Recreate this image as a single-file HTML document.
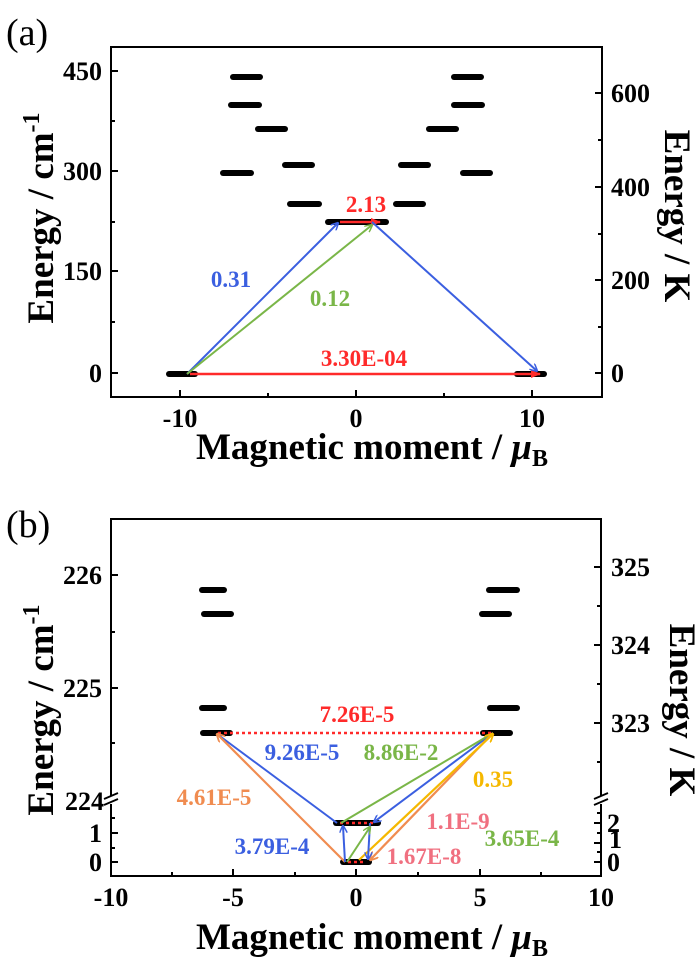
<!DOCTYPE html>
<html><head><meta charset="utf-8"><style>
html,body{margin:0;padding:0;background:#fff}
svg{display:block;font-family:"Liberation Serif",serif;font-weight:bold}
</style></head><body>
<svg width="700" height="980" viewBox="0 0 700 980" xmlns="http://www.w3.org/2000/svg">
<defs>
<marker id="ab" markerWidth="8" markerHeight="8" refX="7" refY="4" orient="auto" markerUnits="userSpaceOnUse"><path d="M0,0 L8,4 L0,8" fill="none" stroke="#3b5fe0" stroke-width="1.5"/></marker>
<marker id="ag" markerWidth="8" markerHeight="8" refX="7" refY="4" orient="auto" markerUnits="userSpaceOnUse"><path d="M0,0 L8,4 L0,8" fill="none" stroke="#7ab648" stroke-width="1.5"/></marker>
<marker id="ar" markerWidth="10" markerHeight="10" refX="9" refY="5" orient="auto" markerUnits="userSpaceOnUse"><path d="M0,1 L10,5 L0,9 z" fill="#ff2a2a"/></marker>
<marker id="ao" markerWidth="9" markerHeight="9" refX="8" refY="4.5" orient="auto" markerUnits="userSpaceOnUse"><path d="M0,0 L9,4.5 L0,9" fill="none" stroke="#f08c50" stroke-width="1.8"/></marker>
<marker id="ay" markerWidth="9" markerHeight="9" refX="8" refY="4.5" orient="auto" markerUnits="userSpaceOnUse"><path d="M0,0 L9,4.5 L0,9" fill="none" stroke="#f5b800" stroke-width="1.8"/></marker>
</defs>

<!-- ===== Panel (a) ===== -->
<text x="6" y="45" font-size="38" font-weight="normal">(a)</text>
<rect x="111" y="47" width="491" height="350" fill="none" stroke="#000" stroke-width="2"/>
<g stroke="#000" stroke-width="2">
<line x1="111" y1="373" x2="118" y2="373"/><line x1="111" y1="271" x2="118" y2="271"/>
<line x1="111" y1="171" x2="118" y2="171"/><line x1="111" y1="71" x2="118" y2="71"/>
<line x1="111" y1="322" x2="115" y2="322"/><line x1="111" y1="222" x2="115" y2="222"/><line x1="111" y1="121" x2="115" y2="121"/>
<line x1="602" y1="373" x2="595" y2="373"/><line x1="602" y1="280" x2="595" y2="280"/>
<line x1="602" y1="187" x2="595" y2="187"/><line x1="602" y1="93" x2="595" y2="93"/>
<line x1="602" y1="327" x2="598" y2="327"/><line x1="602" y1="234" x2="598" y2="234"/><line x1="602" y1="140" x2="598" y2="140"/>
<line x1="180" y1="397" x2="180" y2="390"/><line x1="356" y1="397" x2="356" y2="390"/><line x1="532" y1="397" x2="532" y2="390"/>
<line x1="268" y1="397" x2="268" y2="393"/><line x1="444" y1="397" x2="444" y2="393"/>
</g>
<g font-size="26" text-anchor="end">
<text x="102" y="382">0</text><text x="102" y="280">150</text><text x="102" y="180">300</text><text x="102" y="80">450</text>
</g>
<g font-size="26">
<text x="611" y="382">0</text><text x="611" y="289">200</text><text x="611" y="196">400</text><text x="611" y="102">600</text>
</g>
<g font-size="26" text-anchor="middle">
<text x="180" y="427">-10</text><text x="356" y="427">0</text><text x="532" y="427">10</text>
</g>
<text x="372" y="459" font-size="37" text-anchor="middle">Magnetic moment / <tspan font-style="italic">μ</tspan><tspan font-size="24" dy="7">B</tspan></text>
<text transform="translate(53,218) rotate(-90)" font-size="37" text-anchor="middle">Energy / cm<tspan font-size="24" dy="-14">-1</tspan></text>
<text transform="translate(665,216) rotate(90)" font-size="37" text-anchor="middle">Energy / K</text>
<g stroke="#000" stroke-width="6" stroke-linecap="round">
<line x1="233" y1="77" x2="260" y2="77"/><line x1="454" y1="77" x2="481" y2="77"/>
<line x1="231" y1="105" x2="259" y2="105"/><line x1="454" y1="105" x2="482" y2="105"/>
<line x1="258" y1="129" x2="285" y2="129"/><line x1="429" y1="129" x2="456" y2="129"/>
<line x1="285" y1="165" x2="312" y2="165"/><line x1="401" y1="165" x2="428" y2="165"/>
<line x1="223" y1="173" x2="251" y2="173"/><line x1="463" y1="173" x2="490" y2="173"/>
<line x1="290" y1="204" x2="319" y2="204"/><line x1="396" y1="204" x2="423" y2="204"/>
<line x1="328" y1="222" x2="386" y2="222"/>
<line x1="169" y1="374" x2="195" y2="374"/><line x1="517" y1="374" x2="544" y2="374"/>
</g>
<line x1="190" y1="374" x2="540" y2="374" stroke="#ff2a2a" stroke-width="2.5" marker-end="url(#ar)"/>
<line x1="340" y1="222" x2="380" y2="222" stroke="#ff2a2a" stroke-width="2.5" marker-end="url(#ar)"/>
<line x1="187" y1="374" x2="338" y2="223" stroke="#3b5fe0" stroke-width="2" marker-end="url(#ab)"/>
<line x1="372" y1="222" x2="537" y2="371" stroke="#3b5fe0" stroke-width="2" marker-end="url(#ab)"/>
<line x1="187" y1="374" x2="372" y2="225" stroke="#7ab648" stroke-width="2" marker-end="url(#ag)"/>
<g font-size="23">
<text x="366" y="212" fill="#ff2a2a" text-anchor="middle">2.13</text>
<text x="231" y="287" fill="#3b5fe0" text-anchor="middle">0.31</text>
<text x="330" y="306" fill="#7ab648" text-anchor="middle">0.12</text>
<text x="364" y="366" fill="#ff2a2a" text-anchor="middle">3.30E-04</text>
</g>

<!-- ===== Panel (b) ===== -->
<text x="6" y="537" font-size="38" font-weight="normal">(b)</text>
<rect x="111" y="519" width="490" height="357" fill="none" stroke="#000" stroke-width="2"/>
<rect x="106" y="796" width="10" height="8" fill="#fff"/>
<rect x="596" y="796" width="10" height="8" fill="#fff"/>
<g stroke="#000" stroke-width="1.8">
<line x1="104" y1="799" x2="118" y2="793"/><line x1="104" y1="805" x2="118" y2="799"/>
<line x1="594" y1="799" x2="608" y2="793"/><line x1="594" y1="805" x2="608" y2="799"/>
</g>
<g stroke="#000" stroke-width="2">
<line x1="111" y1="575" x2="118" y2="575"/><line x1="111" y1="688" x2="118" y2="688"/>
<line x1="111" y1="632" x2="115" y2="632"/><line x1="111" y1="743" x2="115" y2="743"/>
<line x1="111" y1="833" x2="118" y2="833"/><line x1="111" y1="862" x2="118" y2="862"/>
<line x1="111" y1="818" x2="115" y2="818"/><line x1="111" y1="848" x2="115" y2="848"/>
<line x1="601" y1="567" x2="594" y2="567"/><line x1="601" y1="645" x2="594" y2="645"/><line x1="601" y1="723" x2="594" y2="723"/>
<line x1="601" y1="606" x2="597" y2="606"/><line x1="601" y1="684" x2="597" y2="684"/><line x1="601" y1="762" x2="597" y2="762"/>
<line x1="601" y1="823" x2="594" y2="823"/><line x1="601" y1="843" x2="594" y2="843"/><line x1="601" y1="862" x2="594" y2="862"/>
<line x1="601" y1="813" x2="597" y2="813"/><line x1="601" y1="833" x2="597" y2="833"/><line x1="601" y1="852" x2="597" y2="852"/>
<line x1="233" y1="876" x2="233" y2="869"/><line x1="356" y1="876" x2="356" y2="869"/><line x1="480" y1="876" x2="480" y2="869"/>
<line x1="172" y1="876" x2="172" y2="872"/><line x1="295" y1="876" x2="295" y2="872"/><line x1="418" y1="876" x2="418" y2="872"/><line x1="541" y1="876" x2="541" y2="872"/>
</g>
<g font-size="26" text-anchor="end">
<text x="102" y="584">226</text><text x="102" y="697">225</text><text x="104" y="810">224</text>
<text x="102" y="842">1</text><text x="102" y="871">0</text>
</g>
<g font-size="26">
<text x="611" y="576">325</text><text x="611" y="654">324</text><text x="611" y="732">323</text>
<text x="607" y="832">2</text><text x="609" y="848">1</text><text x="607" y="871">0</text>
</g>
<g font-size="26" text-anchor="middle">
<text x="111" y="906">-10</text><text x="233" y="906">-5</text><text x="356" y="906">0</text><text x="480" y="906">5</text><text x="601" y="906">10</text>
</g>
<text x="372" y="949" font-size="37" text-anchor="middle">Magnetic moment / <tspan font-style="italic">μ</tspan><tspan font-size="24" dy="7">B</tspan></text>
<text transform="translate(53,710) rotate(-90)" font-size="37" text-anchor="middle">Energy / cm<tspan font-size="24" dy="-14">-1</tspan></text>
<text transform="translate(670,710) rotate(90)" font-size="37" text-anchor="middle">Energy / K</text>
<g stroke="#000" stroke-width="6" stroke-linecap="round">
<line x1="202" y1="590" x2="224" y2="590"/><line x1="489" y1="590" x2="517" y2="590"/>
<line x1="204" y1="614" x2="231" y2="614"/><line x1="482" y1="614" x2="509" y2="614"/>
<line x1="202" y1="708" x2="224" y2="708"/><line x1="490" y1="708" x2="517" y2="708"/>
<line x1="203" y1="733" x2="230" y2="733"/><line x1="483" y1="733" x2="510" y2="733"/>
<line x1="336" y1="823" x2="378" y2="823"/>
<line x1="343" y1="862" x2="369" y2="862"/>
</g>
<g stroke="#ff2a2a" stroke-width="2.5" stroke-dasharray="3,3" fill="none">
<line x1="218" y1="733" x2="494" y2="733"/>
<line x1="340" y1="823" x2="376" y2="823"/>
<line x1="348" y1="862" x2="366" y2="862"/>
</g>
<line x1="337" y1="823" x2="217" y2="734" stroke="#3b5fe0" stroke-width="2"/>
<line x1="493" y1="733" x2="374" y2="822" stroke="#3b5fe0" stroke-width="2" marker-end="url(#ab)"/>
<line x1="341" y1="823" x2="493" y2="733" stroke="#7ab648" stroke-width="2"/>
<line x1="345" y1="862" x2="217" y2="734" stroke="#f08c50" stroke-width="2.2" marker-end="url(#ao)"/>
<line x1="493" y1="733" x2="370" y2="860" stroke="#f08c50" stroke-width="2.2" marker-end="url(#ao)"/>
<line x1="359" y1="860" x2="493" y2="734" stroke="#f5b800" stroke-width="2.2" marker-end="url(#ay)"/>
<line x1="345" y1="862" x2="343" y2="826" stroke="#3b5fe0" stroke-width="2" marker-end="url(#ab)"/>
<line x1="370" y1="823" x2="368" y2="859" stroke="#3b5fe0" stroke-width="2" marker-end="url(#ab)"/>
<line x1="347" y1="862" x2="370" y2="827" stroke="#7ab648" stroke-width="2" marker-end="url(#ag)"/>
<g font-size="23" text-anchor="middle">
<text x="357" y="722" fill="#ff2a2a">7.26E-5</text>
<text x="302" y="760" fill="#3b5fe0">9.26E-5</text>
<text x="401" y="760" fill="#7ab648">8.86E-2</text>
<text x="493" y="787" fill="#f5b800">0.35</text>
<text x="214" y="805" fill="#f08c50">4.61E-5</text>
<text x="272" y="854" fill="#3b5fe0">3.79E-4</text>
<text x="458" y="829" fill="#f07080">1.1E-9</text>
<text x="522" y="846" fill="#7ab648">3.65E-4</text>
<text x="424" y="864" fill="#f07080">1.67E-8</text>
</g>
</svg>
</body></html>
